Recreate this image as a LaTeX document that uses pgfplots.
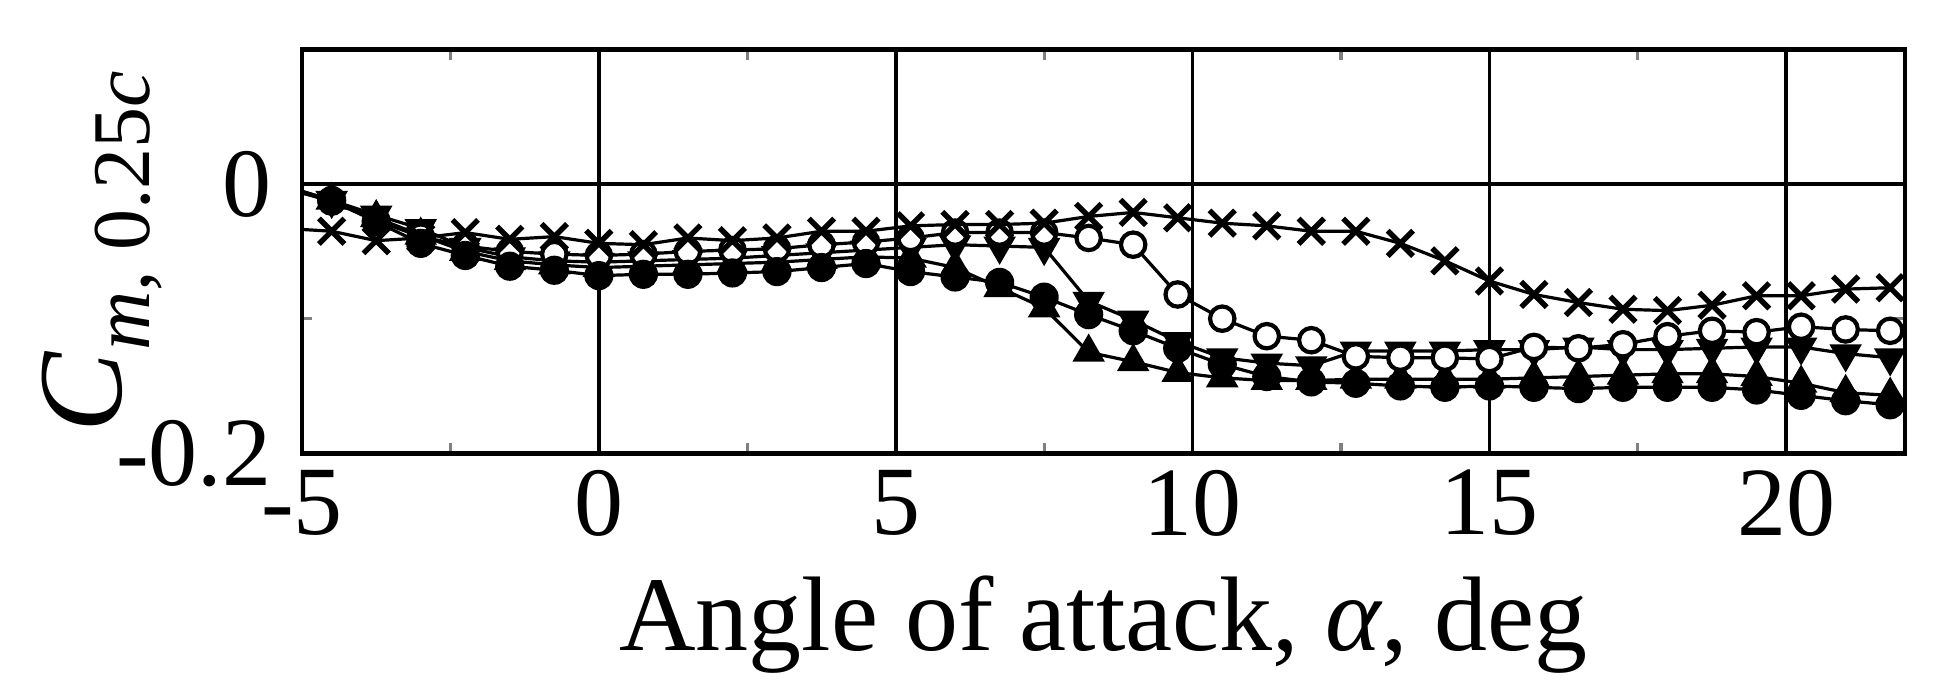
\documentclass[border=0pt]{standalone}
\usepackage{pgfplots}
\pgfplotsset{compat=1.18}
\usepackage{pgfplotstable}
\usepackage{fontspec}
\setmainfont{Liberation Serif}

\pgfplotstableread{
x     cx     co     cv     ca     cf
-5.25 -0.033 -0.003 -0.002 -0.002 -0.004
-4.5  -0.035 -0.013 -0.012 -0.012 -0.012
-3.75 -0.042 -0.027 -0.023 -0.025 -0.028
-3    -0.040 -0.039 -0.033 -0.038 -0.044
-2.25 -0.036 -0.046 -0.047 -0.050 -0.053
-1.5  -0.041 -0.050 -0.054 -0.057 -0.061
-0.75 -0.039 -0.052 -0.057 -0.060 -0.064
0     -0.044 -0.053 -0.058 -0.062 -0.068
0.75  -0.045 -0.052 -0.057 -0.061 -0.067
1.5   -0.040 -0.050 -0.056 -0.060 -0.067
2.25  -0.042 -0.049 -0.055 -0.059 -0.066
3     -0.040 -0.048 -0.053 -0.058 -0.065
3.75  -0.035 -0.045 -0.051 -0.056 -0.062
4.5   -0.035 -0.043 -0.049 -0.054 -0.059
5.25  -0.031 -0.040 -0.047 -0.055 -0.065
6     -0.030 -0.036 -0.045 -0.062 -0.069
6.75  -0.030 -0.036 -0.046 -0.077 -0.073
7.5   -0.029 -0.036 -0.047 -0.092 -0.084
8.25  -0.024 -0.040 -0.087 -0.125 -0.097
9     -0.021 -0.045 -0.101 -0.132 -0.109
9.75  -0.025 -0.082 -0.117 -0.140 -0.122
10.5  -0.029 -0.100 -0.129 -0.144 -0.134
11.25 -0.031 -0.113 -0.133 -0.146 -0.143
12    -0.035 -0.116 -0.135 -0.146 -0.147
12.75 -0.035 -0.128 -0.124 -0.145 -0.148
13.5  -0.044 -0.129 -0.124 -0.145 -0.150
14.25 -0.057 -0.129 -0.124 -0.145 -0.151
15    -0.072 -0.130 -0.123 -0.145 -0.150
15.75 -0.082 -0.121 -0.123 -0.144 -0.151
16.5  -0.088 -0.122 -0.121 -0.143 -0.152
17.25 -0.093 -0.119 -0.123 -0.142 -0.151
18    -0.094 -0.113 -0.123 -0.141 -0.151
18.75 -0.090 -0.109 -0.122 -0.141 -0.151
19.5  -0.083 -0.110 -0.121 -0.143 -0.153
20.25 -0.083 -0.106 -0.121 -0.148 -0.157
21    -0.078 -0.108 -0.126 -0.155 -0.161
21.75 -0.077 -0.109 -0.129 -0.157 -0.164
}\datatab

\begin{document}
\begin{tikzpicture}
\useasboundingbox (-75.5pt,-59.2pt) rectangle (411pt,113.3pt);
\begin{axis}[
  at={(0,0)}, anchor=south west,
  scale only axis, width=400.75pt, height=100.9pt,
  xmin=-5, xmax=22, ymin=-0.2, ymax=0.1,
  xtick={-5,0,5,10,15,20}, xticklabels={-5,0,5,10,15,20},
  ytick={-0.2,0}, yticklabels={-0.2,0},
  minor xtick={-2.5,2.5,7.5,12.5,17.5},
  minor ytick={-0.1},
  grid=major,
  major grid style={black, line width=0.9pt},
  axis line style={black, line width=1.2pt},
  major tick length=0pt, minor tick length=2.5pt,
  minor tick style={gray, line width=0.8pt},
  clip marker paths=true,
  ticklabel style={font=\fontsize{24.5}{29}\selectfont},
  xticklabel style={anchor=north, inner sep=0pt, yshift=-4pt},
  yticklabel style={anchor=east, inner sep=0pt, xshift=-7.5pt},
  xlabel={Angle of attack, \textit{α}, deg},
  xlabel style={at={(axis description cs:0.5,-0.4886)}, anchor=base, inner sep=0pt,
    font=\fontsize{26.5}{31}\selectfont},
  ylabel={\textit{C}\raisebox{-7pt}{\fontsize{20.5}{24}\selectfont\textit{m}, 0.25\textit{c}}},
  ylabel style={at={(axis description cs:-0.1123,0.5)}, anchor=base, inner sep=0pt,
    font=\fontsize{30}{36}\selectfont},
]
\addplot[black, line width=0.8pt, mark=triangle*, mark size=4.2pt,
  mark options={solid, fill=black, line width=0.5pt}] table[x=x, y=ca] {\datatab};
\addplot[black, line width=0.8pt, mark=triangle*, mark size=4.2pt,
  mark options={solid, fill=black, rotate=180, line width=0.5pt}] table[x=x, y=cv] {\datatab};
\addplot[black, line width=0.8pt, mark=*, mark size=3.05pt,
  mark options={solid, fill=white, line width=1.05pt}] table[x=x, y=co] {\datatab};
\addplot[black, line width=0.8pt, mark=*, mark size=3.4pt,
  mark options={solid, fill=black, line width=0.5pt}] table[x=x, y=cf] {\datatab};
\addplot[black, line width=0.8pt, mark=x, mark size=4.5pt,
  mark options={solid, line width=1.35pt}] table[x=x, y=cx] {\datatab};
\end{axis}
\end{tikzpicture}
\end{document}
